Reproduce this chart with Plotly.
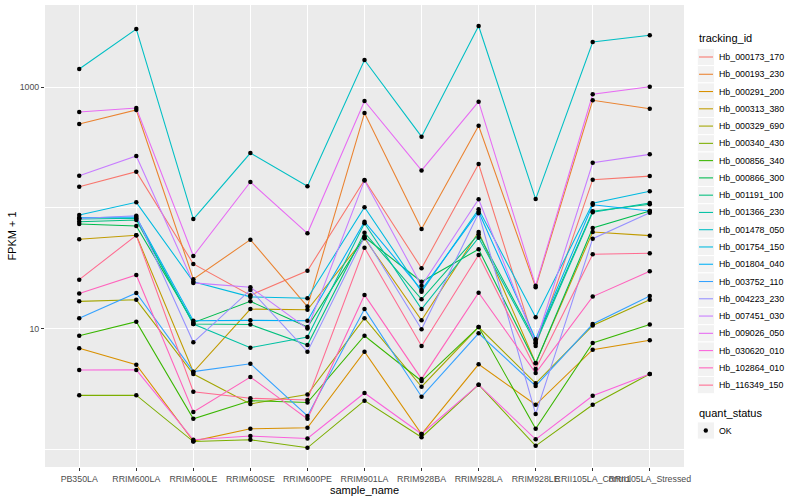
import plotly.graph_objects as go

samples = ["PB350LA", "RRIM600LA", "RRIM600LE", "RRIM600SE", "RRIM600PE", "RRIM901LA",
           "RRIM928BA", "RRIM928LA", "RRIM928LE", "RRII105LA_Control", "RRII105LA_Stressed"]

tracking_ids = ["Hb_000173_170", "Hb_000193_230", "Hb_000291_200", "Hb_000313_380", "Hb_000329_690",
                "Hb_000340_430", "Hb_000856_340", "Hb_000866_300", "Hb_001191_100", "Hb_001366_230",
                "Hb_001478_050", "Hb_001754_150", "Hb_001804_040", "Hb_003752_110", "Hb_004223_230",
                "Hb_007451_030", "Hb_009026_050", "Hb_030620_010", "Hb_102864_010", "Hb_116349_150"]

colors = ["#F8766D", "#EA8331", "#D89000", "#C09B00", "#A3A500", "#7CAE00", "#39B600", "#00BB4E",
          "#00BF7D", "#00C1A3", "#00BFC4", "#00BAE0", "#00B0F6", "#35A2FF", "#9590FF", "#C77CFF",
          "#E76BF3", "#FA62DB", "#FF62BC", "#FF6C91"]

# FPKM + 1 values, one list per tracking_id, in sample order
hb_000173_170 = [149.5, 199, 34.3, 18.9, 30.1, 170, 31.6, 230.5, 7.18, 171, 183]
hb_000193_230 = [494, 645, 25.6, 54.5, 15.2, 609, 66.8, 478, 22.0, 776, 661]
hb_000291_200 = [6.87, 5.02, 1.17, 1.48, 1.51, 6.44, 1.34, 5.06, 2.34, 6.69, 8.0]
hb_000313_380 = [54.9, 59.2, 4.37, 14.5, 14.3, 55.9, 11.7, 63.0, 5.19, 63.0, 58.8]
hb_000329_690 = [16.8, 17.3, 4.21, 2.38, 2.84, 12.2, 3.30, 10.3, 3.52, 10.6, 17.3]
hb_000340_430 = [2.80, 2.81, 1.16, 1.20, 1.03, 2.53, 1.26, 3.43, 1.07, 2.34, 4.21]
hb_000856_340 = [8.73, 11.4, 1.79, 2.53, 2.44, 8.73, 3.68, 10.3, 1.48, 7.6, 10.8]
hb_000866_300 = [73.4, 70.7, 11.2, 16.8, 10.3, 57.3, 24.4, 45.4, 5.16, 68, 94.1]
hb_001191_100 = [76.7, 79.3, 10.9, 10.8, 7.31, 62.2, 17.5, 60.4, 7.89, 93.5, 107]
hb_001366_230 = [80.7, 81.9, 10.9, 6.95, 8.51, 74.4, 14.5, 56.6, 7.55, 91.8, 109.6]
hb_001478_050 = [1409, 3020, 80.7, 284, 151, 1673, 388, 3199, 118, 2358, 2679]
hb_001754_150 = [87.2, 111, 24.4, 18.3, 17.8, 101, 20.2, 97.2, 12.4, 109, 137]
hb_001804_040 = [82.8, 83.9, 11.6, 11.7, 11.6, 76.7, 20.9, 92.9, 8.15, 106, 94.1]
hb_003752_110 = [12.2, 19.7, 4.40, 5.12, 1.89, 14.5, 2.73, 9.14, 3.35, 10.9, 18.6]
hb_004223_230 = [81.5, 86, 7.70, 20.9, 6.44, 57.6, 9.86, 90.1, 1.96, 55.5, 91.0]
hb_007451_030 = [184.5, 268.5, 23.9, 22.0, 10.0, 168, 22.6, 117.6, 7.6, 236, 277]
hb_009026_050 = [621, 670, 39.9, 163.5, 61.5, 766, 204, 756, 22.6, 870, 1006]
hb_030620_010 = [4.54, 4.55, 1.20, 1.29, 1.23, 2.93, 1.34, 3.43, 1.21, 2.78, 4.21]
hb_102864_010 = [19.5, 27.8, 2.04, 3.97, 1.79, 19.0, 3.83, 19.8, 4.29, 18.4, 29.8]
hb_116349_150 = [25.4, 59.2, 3.00, 2.65, 2.56, 46.7, 7.18, 40.7, 4.63, 41.2, 42.0]

series = [hb_000173_170, hb_000193_230, hb_000291_200, hb_000313_380, hb_000329_690,
          hb_000340_430, hb_000856_340, hb_000866_300, hb_001191_100, hb_001366_230,
          hb_001478_050, hb_001754_150, hb_001804_040, hb_003752_110, hb_004223_230,
          hb_007451_030, hb_009026_050, hb_030620_010, hb_102864_010, hb_116349_150]

quant_levels = ["OK"]

FONT = "Liberation Sans"
W, H = 800, 500
ML, MR, MT, MB = 45, 116, 5, 33
PW, PH = W - ML - MR, H - MT - MB


def px(xp):
    return (xp - ML) / PW


def py(yp):
    return 1 - (yp - MT) / PH


fig = go.Figure()

for tid, col, vals in zip(tracking_ids, colors, series):
    fig.add_trace(go.Scatter(x=samples, y=vals, mode="lines", name=tid,
                             line=dict(color=col, width=1.07), showlegend=False,
                             hoverinfo="skip"))

all_x, all_y = [], []
for vals in series:
    all_x += samples
    all_y += vals
fig.add_trace(go.Scatter(x=all_x, y=all_y, mode="markers", name=quant_levels[0],
                         marker=dict(color="black", size=4.5, symbol="circle"),
                         showlegend=False))

shapes = []
annotations = []

# manual ggplot-style legend
annotations.append(dict(x=px(697), y=py(38), xref="paper", yref="paper", text="tracking_id",
                        showarrow=False, xanchor="left", yanchor="middle",
                        font=dict(family=FONT, size=11, color="black")))
step = 17.27
y0 = 57
for i, (tid, col) in enumerate(zip(tracking_ids, colors)):
    yc = y0 + step * i
    shapes.append(dict(type="rect", xref="paper", yref="paper",
                       x0=px(697.3), x1=px(714.5), y0=py(yc - step / 2), y1=py(yc + step / 2),
                       fillcolor="#F2F2F2", line=dict(color="white", width=1), layer="above"))
    shapes.append(dict(type="line", xref="paper", yref="paper",
                       x0=px(699), x1=px(713), y0=py(yc), y1=py(yc),
                       line=dict(color=col, width=1.07), layer="above"))
    annotations.append(dict(x=px(716.7), y=py(yc), xref="paper", yref="paper", text=tid,
                            showarrow=False, xanchor="left", yanchor="middle",
                            font=dict(family=FONT, size=8.8, color="black")))

annotations.append(dict(x=px(697), y=py(413), xref="paper", yref="paper", text="quant_status",
                        showarrow=False, xanchor="left", yanchor="middle",
                        font=dict(family=FONT, size=11, color="black")))
yc = 430.5
shapes.append(dict(type="rect", xref="paper", yref="paper",
                   x0=px(697.3), x1=px(714.5), y0=py(yc - step / 2), y1=py(yc + step / 2),
                   fillcolor="#F2F2F2", line=dict(color="white", width=1), layer="above"))
shapes.append(dict(type="circle", xref="paper", yref="paper",
                   x0=px(703.6), x1=px(708.0), y0=py(yc - 2.2), y1=py(yc + 2.2),
                   fillcolor="black", line=dict(color="black", width=0), layer="above"))
annotations.append(dict(x=px(716.7), y=py(yc), xref="paper", yref="paper", text=quant_levels[0],
                        showarrow=False, xanchor="left", yanchor="middle",
                        font=dict(family=FONT, size=8.8, color="black")))

fig.update_layout(
    width=W, height=H,
    margin=dict(l=ML, r=MR, t=MT, b=MB, pad=0),
    plot_bgcolor="#EBEBEB", paper_bgcolor="white",
    font=dict(family=FONT, color="black"),
    showlegend=False,
    shapes=shapes, annotations=annotations,
    xaxis=dict(
        type="category", categoryorder="array", categoryarray=samples,
        range=[-0.6, len(samples) - 0.4],
        tickmode="array", tickvals=samples, ticktext=samples, tickangle=0,
        showgrid=True, gridcolor="white", gridwidth=1.07,
        zeroline=False, showline=False,
        ticks="outside", ticklen=3, tickwidth=1, tickcolor="#333333",
        tickfont=dict(family=FONT, size=8.8, color="#4D4D4D"),
        title=dict(text="sample_name", font=dict(family=FONT, size=11, color="black"), standoff=1),
    ),
    yaxis=dict(
        type="log", range=[-0.146, 3.679],
        tickmode="array", tickvals=[10, 1000], ticktext=["10", "1000"],
        showgrid=True, gridcolor="white", gridwidth=1.07,
        minor=dict(tickvals=[1, 100], showgrid=True, gridcolor="white", gridwidth=0.53),
        zeroline=False, showline=False,
        ticks="outside", ticklen=3, tickwidth=1, tickcolor="#333333",
        tickfont=dict(family=FONT, size=8.8, color="#4D4D4D"),
        title=dict(text="FPKM + 1", font=dict(family=FONT, size=11, color="black"), standoff=0),
    ),
)

fig.write_html("out.html", config={"displayModeBar": False},
               post_script="document.body.style.margin='0';document.body.style.overflow='hidden';")
